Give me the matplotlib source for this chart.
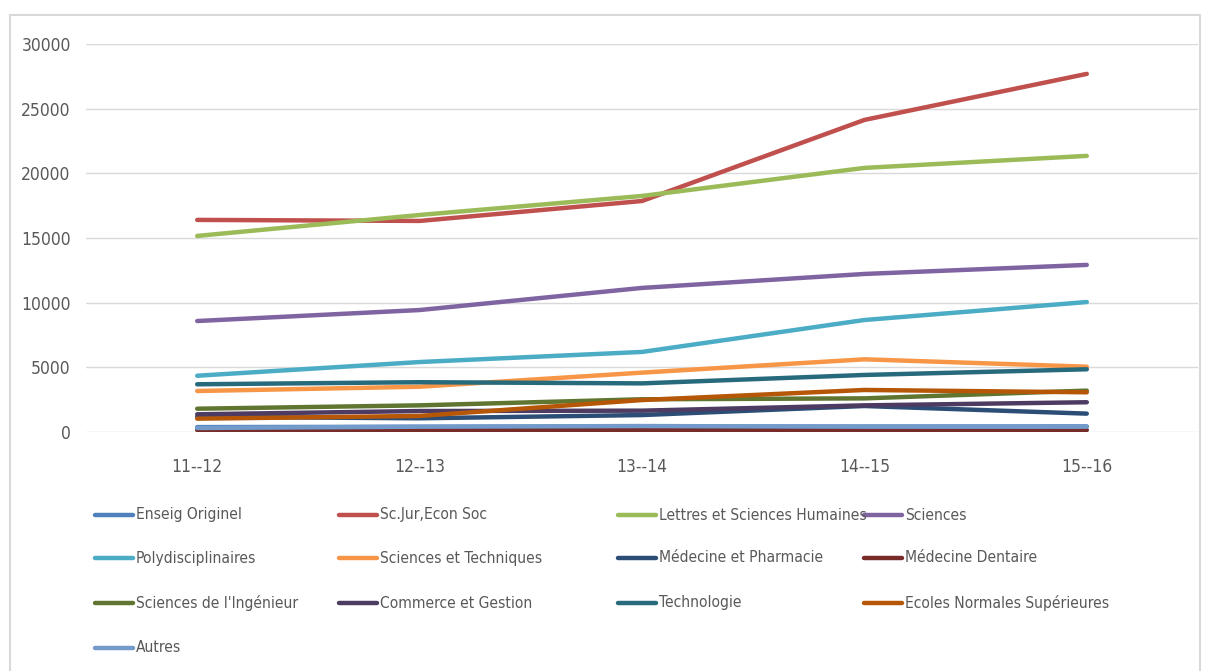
import matplotlib.pyplot as plt
from matplotlib.lines import Line2D
from matplotlib.patches import Rectangle

plt.rcParams['font.family'] = ['DejaVu Sans']
plt.rcParams['font.stretch'] = 'condensed'

# données (effectifs par établissement)
annees = ['11--12', '12--13', '13--14', '14--15', '15--16']

enseig_originel = [380, 400, 420, 420, 430]
sc_jur = [16400, 16320, 17860, 24130, 27690]
lettres = [15160, 16780, 18250, 20420, 21350]
sciences = [8580, 9430, 11140, 12220, 12920]
polydisciplinaires = [4350, 5410, 6190, 8660, 10050]
sciences_techniques = [3170, 3500, 4590, 5620, 5050]
medecine_pharmacie = [1180, 1060, 1310, 2010, 1420]
medecine_dentaire = [150, 130, 150, 150, 150]
sciences_ingenieur = [1800, 2060, 2530, 2600, 3200]
commerce_gestion = [1370, 1620, 1650, 2060, 2300]
technologie = [3690, 3850, 3760, 4410, 4850]
ecoles_normales = [1030, 1240, 2470, 3250, 3070]
autres = [310, 410, 460, 410, 410]

series = [
    ("Enseig Originel", enseig_originel, '#4F81BD'),
    ("Sc.Jur,Econ Soc", sc_jur, '#C0504D'),
    ("Lettres et Sciences Humaines", lettres, '#9BBB59'),
    ("Sciences", sciences, '#8064A2'),
    ("Polydisciplinaires", polydisciplinaires, '#4BACC6'),
    ("Sciences et Techniques", sciences_techniques, '#F79646'),
    ("Médecine et Pharmacie", medecine_pharmacie, '#2C4D75'),
    ("Médecine Dentaire", medecine_dentaire, '#772C2A'),
    ("Sciences de l'Ingénieur", sciences_ingenieur, '#5F7530'),
    ("Commerce et Gestion", commerce_gestion, '#4D3B62'),
    ("Technologie", technologie, '#276A7C'),
    ("Ecoles Normales Supérieures", ecoles_normales, '#B65708'),
    ("Autres", autres, '#729ACA'),
]

fig = plt.figure(figsize=(12.08, 6.71), dpi=100)

# cadre gris autour du graphique
fig.add_artist(Rectangle((10 / 1208, -0.05), 1190 / 1208, 1.05 - 15 / 671,
                         transform=fig.transFigure, fill=False,
                         edgecolor='#D9D9D9', linewidth=1.5))

ax = fig.add_axes([86 / 1208, 1 - 432 / 671, 1112 / 1208, 388 / 671])

x = list(range(len(annees)))
for nom, valeurs, couleur in series:
    ax.plot(x, valeurs, color=couleur, linewidth=3.2, solid_capstyle='round',
            solid_joinstyle='round')

ax.set_xlim(-0.5, len(annees) - 0.5)
ax.set_ylim(0, 30000)
ax.set_yticks(range(0, 30001, 5000))
ax.set_xticks(x)
ax.set_xticklabels(annees)
ax.grid(axis='y', color='#D9D9D9', linewidth=1)
ax.set_axisbelow(True)
for s in ax.spines.values():
    s.set_visible(False)
ax.tick_params(length=0, labelsize=12.5, colors='#595959')
ax.tick_params(axis='y', pad=11)
ax.tick_params(axis='x', pad=19)

# légende à la manière d'Excel (4 colonnes)
col_x = [95, 339, 618, 864]
row_y = [515, 558, 603, 648]
for i, (nom, valeurs, couleur) in enumerate(series):
    cx = col_x[i % 4]
    cy = row_y[i // 4]
    fig.add_artist(Line2D([cx / 1208, (cx + 38) / 1208], [1 - cy / 671, 1 - cy / 671],
                          transform=fig.transFigure, color=couleur, linewidth=3.2,
                          solid_capstyle='round'))
    fig.text((cx + 41) / 1208, 1 - cy / 671, nom, fontsize=11.2, color='#595959',
             va='center', ha='left')

fig.savefig('out.png', dpi=100)
